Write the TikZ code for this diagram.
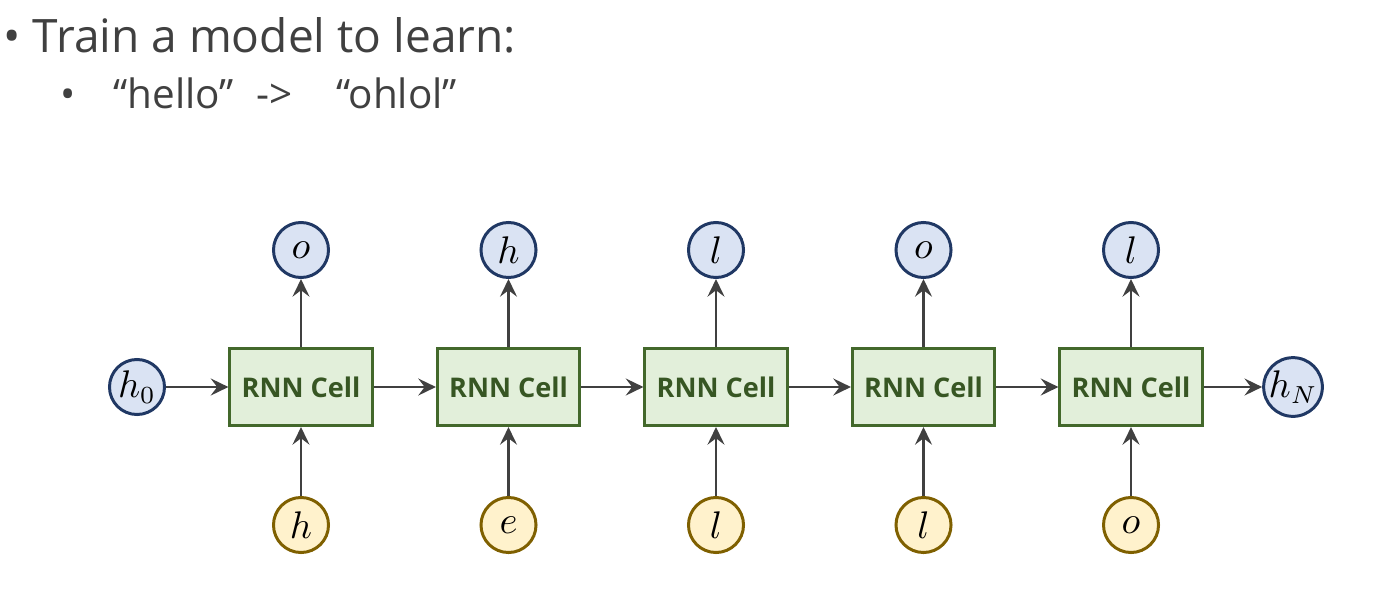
\documentclass[tikz,border=0pt]{standalone}
\usepackage{fontspec}
\setsansfont{Open Sans}
\usepackage{amsmath}
\usetikzlibrary{arrows.meta}
\definecolor{txtgray}{HTML}{404040}
\definecolor{cellfill}{HTML}{E2EFDA}
\definecolor{celldraw}{HTML}{43682B}
\definecolor{celltext}{HTML}{375623}
\definecolor{hfill}{HTML}{DAE3F3}
\definecolor{hdraw}{HTML}{203864}
\definecolor{xfill}{HTML}{FFF2CC}
\definecolor{xdraw}{HTML}{7F6000}

\begin{document}
\begin{tikzpicture}[x=0.01cm, y=-0.01cm, >={Stealth[length=5pt, width=4.8pt, inset=1.8pt]},
	cell/.style={draw=celldraw, fill=cellfill, line width=0.85pt, minimum width=1.41cm, minimum height=0.77cm, text=celltext, font=\sffamily\bfseries\fontsize{7.7}{9}\selectfont},
	hstate/.style={circle, draw=hdraw, fill=hfill, line width=0.85pt, minimum size=0.55cm, inner sep=0pt, font=\fontsize{10.5}{12}\selectfont},
	xin/.style={hstate, draw=xdraw, fill=xfill},
	link/.style={->, draw=txtgray, line width=0.8pt}]
	\useasboundingbox (0,0) rectangle (1373,597);
	% heading
	\node[anchor=base west, inner sep=0pt, text=txtgray, font=\sffamily\fontsize{13.1}{16}\selectfont] (item1) at (3,52) {• Train a model to learn:};
	\node[anchor=base west, inner sep=0pt, text=txtgray, font=\sffamily\fontsize{11.5}{14}\selectfont] (dot2) at (60,108) {•};
	\node[anchor=base west, inner sep=0pt, text=txtgray, font=\sffamily\fontsize{11.5}{14}\selectfont] (item2) at (113,108) {“hello”\hspace{0.55em}->\hspace{1.1em}“ohlol”};
	% unrolled cells
	\foreach \i/\a/\b in {0/h/o, 1/e/h, 2/l/l, 3/l/o, 4/o/l} {
		\node[cell] (cell\i) at (301+207.5*\i,387) {RNN Cell};
		\node[hstate] (out\i) at (301+207.5*\i,250) {$\b$};
		\node[xin] (in\i) at (301+207.5*\i,525) {$\a$};
		\draw[link] (cell\i) -- (out\i);
		\draw[link] (in\i) -- (cell\i);
	}
	\node[hstate] (h0) at (137,387) {$h_0$};
	\node[hstate] (hN) at (1293,387) {$h_N$};
	\draw[link] (h0) -- (cell0);
	\foreach \i [evaluate=\i as \j using int(\i+1)] in {0,...,3}
		\draw[link] (cell\i) -- (cell\j);
	\draw[link] (cell4) -- (hN);
\end{tikzpicture}
\end{document}
